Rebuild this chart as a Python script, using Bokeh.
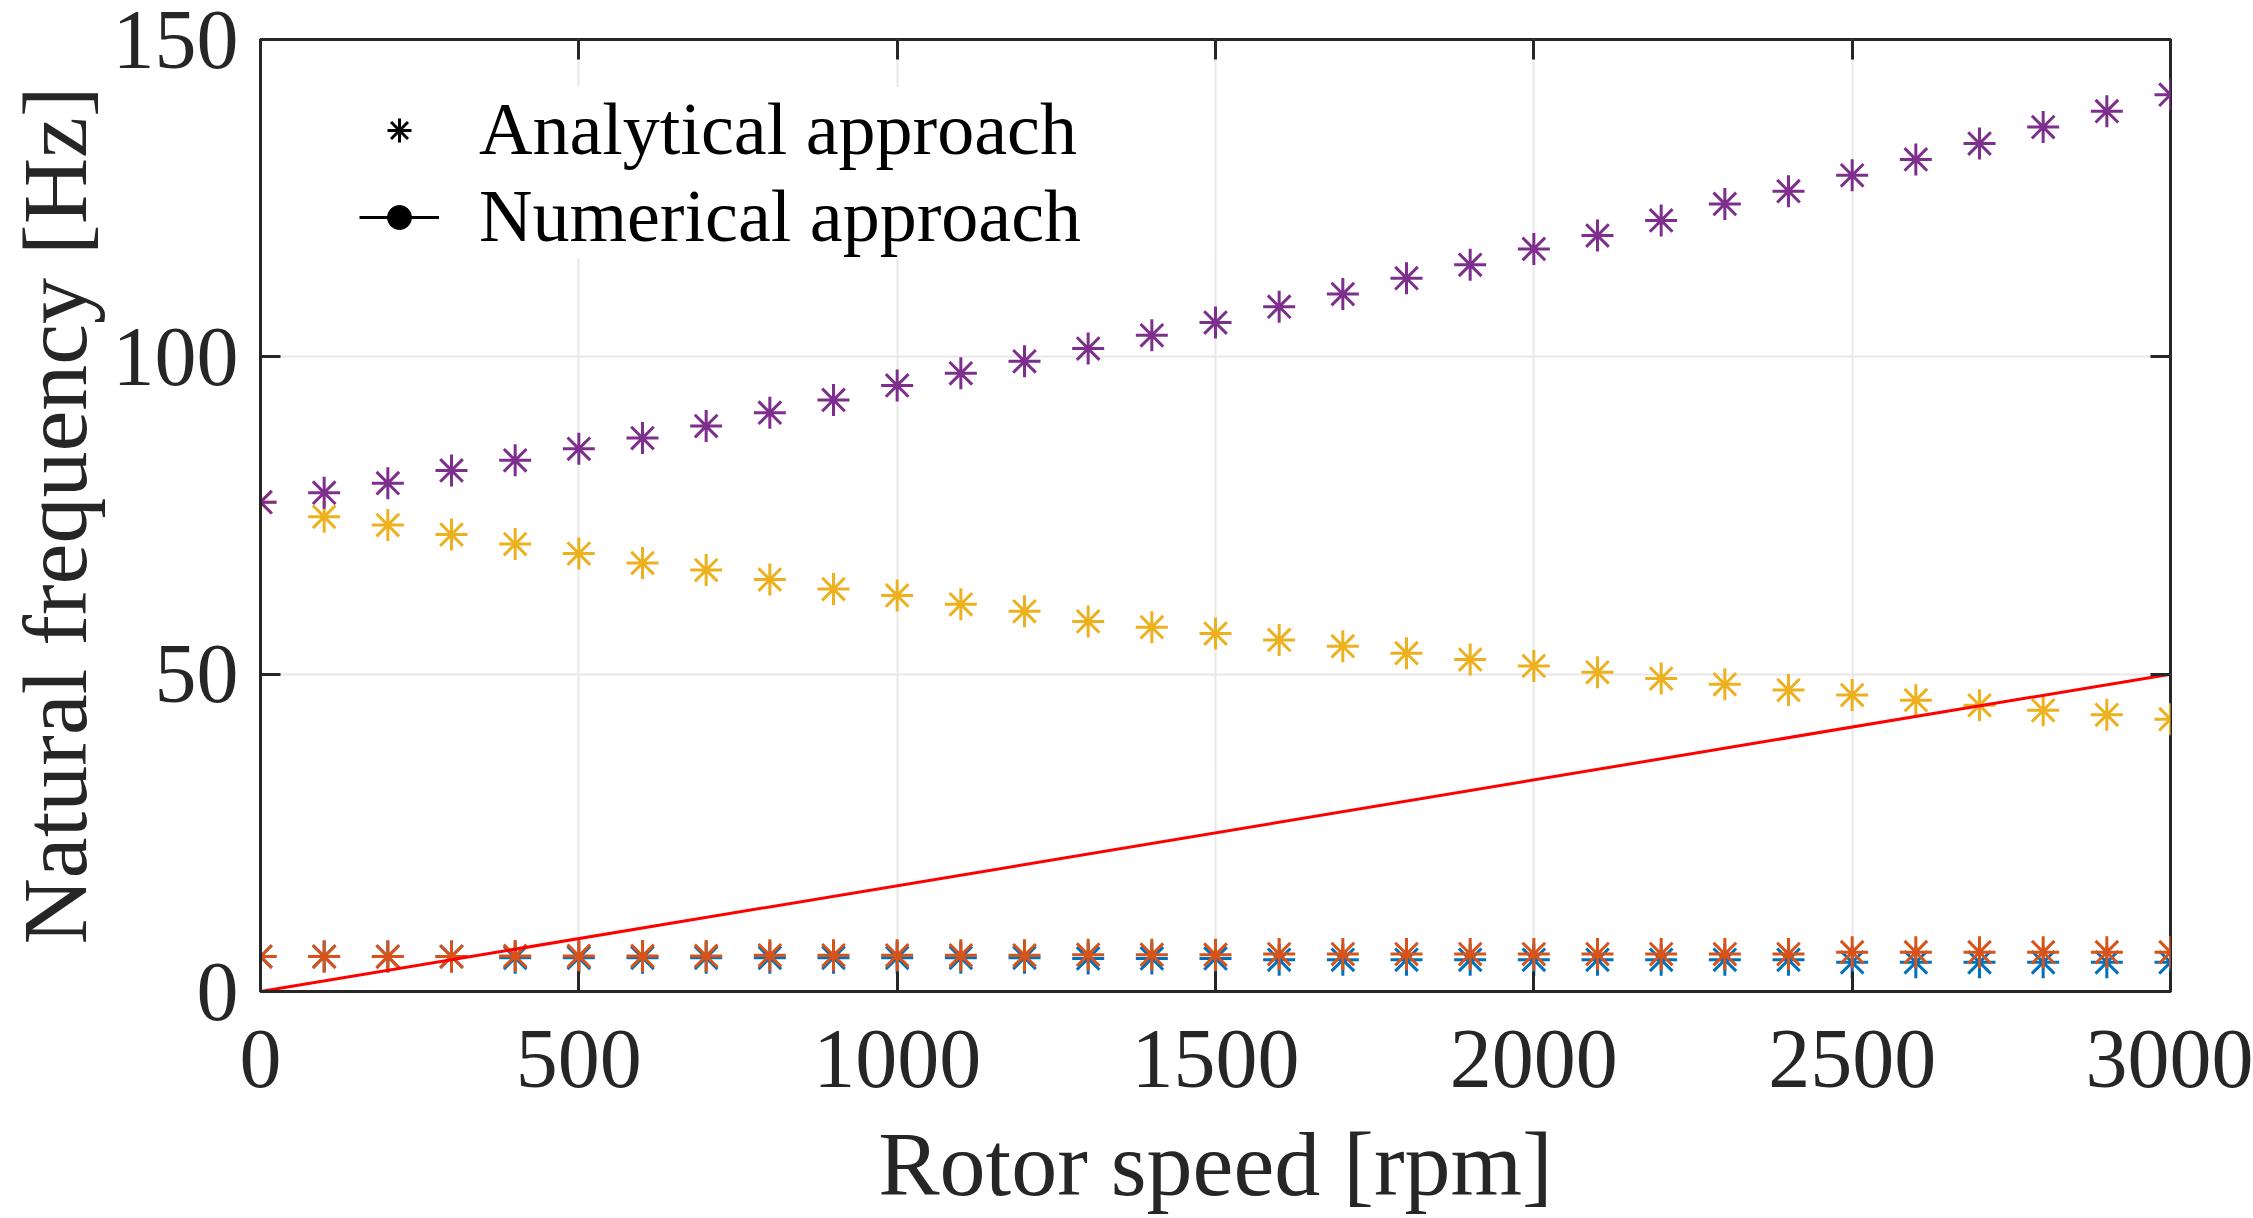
from bokeh.plotting import figure
from bokeh.models import LinearAxis, FixedTicker, Legend, LegendItem, Range1d
from bokeh.embed import file_html
from bokeh.resources import INLINE

# Rotor speed samples [rpm]
rotor_speed = [0, 100, 200, 300, 400, 500, 600, 700, 800, 900, 1000,
               1100, 1200, 1300, 1400, 1500, 1600, 1700, 1800, 1900, 2000,
               2100, 2200, 2300, 2400, 2500, 2600, 2700, 2800, 2900, 3000]

# Natural frequencies [Hz] from the analytical model, one list per mode
mode1_hz = [5.5, 5.5, 5.5, 5.5, 5.3, 5.3, 5.3, 5.3, 5.3, 5.3, 5.3,
            5.3, 5.3, 5.2, 5.2, 5.2, 5.0, 5.0, 5.0, 5.0, 5.0,
            5.0, 5.0, 5.0, 5.0, 4.6, 4.6, 4.6, 4.6, 4.6, 4.6]
mode2_hz = [5.5, 5.5, 5.5, 5.5, 5.6, 5.6, 5.6, 5.6, 5.7, 5.7, 5.7,
            5.7, 5.7, 5.8, 5.8, 5.8, 5.9, 5.9, 5.9, 5.9, 5.9,
            5.9, 5.9, 5.9, 5.9, 6.2, 6.2, 6.2, 6.2, 6.2, 6.2]
mode3_hz = [77.1, 74.8, 73.5, 72.0, 70.5, 69.0, 67.5, 66.4, 64.9, 63.4, 62.4,
            61.0, 59.9, 58.3, 57.4, 56.4, 55.4, 54.4, 53.3, 52.3, 51.3,
            50.3, 49.3, 48.4, 47.5, 46.7, 45.9, 45.1, 44.3, 43.6, 42.9]
mode4_hz = [77.1, 78.6, 80.1, 82.1, 83.7, 85.5, 87.2, 89.1, 91.2, 93.2, 95.5,
            97.4, 99.3, 101.3, 103.4, 105.4, 107.9, 109.9, 112.4, 114.5, 117.0,
            119.1, 121.5, 124.1, 126.1, 128.6, 131.1, 133.6, 136.2, 138.7, 141.3]

# 1x synchronous excitation line (rpm -> Hz)
excitation_rpm = [0, 3000]
excitation_hz = [0, 50]

x_ticks = [0, 500, 1000, 1500, 2000, 2500, 3000]
y_ticks = [0, 50, 100, 150]

mode_colors = ["#0072BD", "#D95319", "#EDB120", "#7E2F8E"]
AXIS_COLOR = "#262626"
FONT = "Liberation Serif"

p = figure(width=2253, height=1218,
           x_range=Range1d(0, 3000), y_range=Range1d(0, 150),
           output_backend="svg", toolbar_location=None,
           x_axis_label="Rotor speed [rpm]",
           y_axis_label="Natural frequency [Hz]",
           min_border_left=260, min_border_right=83,
           min_border_top=39, min_border_bottom=227)
p.background_fill_color = "white"
p.border_fill_color = "white"
p.outline_line_color = AXIS_COLOR
p.outline_line_width = 3

# Grid
p.xgrid.ticker = FixedTicker(ticks=x_ticks)
p.ygrid.ticker = FixedTicker(ticks=y_ticks)
for g in (p.xgrid[0], p.ygrid[0]):
    g.grid_line_color = "#e8e8e8"
    g.grid_line_width = 2

# Main axes
p.xaxis.ticker = FixedTicker(ticks=x_ticks)
p.yaxis.ticker = FixedTicker(ticks=y_ticks)
for ax in (p.xaxis[0], p.yaxis[0]):
    ax.axis_line_color = AXIS_COLOR
    ax.axis_line_width = 3
    ax.major_tick_line_color = AXIS_COLOR
    ax.major_tick_line_width = 3
    ax.major_tick_in = 20
    ax.major_tick_out = 0
    ax.minor_tick_line_color = None
    ax.major_label_text_font = FONT
    ax.major_label_text_font_size = "84px"
    ax.major_label_text_color = AXIS_COLOR
    ax.axis_label_text_font = FONT
    ax.axis_label_text_font_size = "92px"
    ax.axis_label_text_font_style = "normal"
    ax.axis_label_text_color = AXIS_COLOR
p.xaxis.major_label_standoff = 39
p.xaxis.axis_label_standoff = 23
p.yaxis.major_label_standoff = 22
p.yaxis.axis_label_standoff = 4

# Mirrored ticks on the top and right edges of the box
top_axis = LinearAxis(ticker=FixedTicker(ticks=x_ticks),
                      major_label_overrides={t: "" for t in x_ticks})
right_axis = LinearAxis(ticker=FixedTicker(ticks=y_ticks),
                        major_label_overrides={t: "" for t in y_ticks})
for ax in (top_axis, right_axis):
    ax.axis_line_color = None
    ax.major_tick_line_color = AXIS_COLOR
    ax.major_tick_line_width = 3
    ax.major_tick_in = 20
    ax.major_tick_out = 0
    ax.minor_tick_line_color = None
    ax.major_label_text_font_size = "0px"
    ax.major_label_standoff = 0
p.add_layout(top_axis, "above")
p.add_layout(right_axis, "right")

# Analytical natural frequencies
for series, color in zip([mode1_hz, mode2_hz, mode3_hz, mode4_hz], mode_colors):
    p.scatter(rotor_speed, series, marker="asterisk", size=32,
              line_color=color, line_width=3)

# Synchronous excitation line
p.line(excitation_rpm, excitation_hz, line_color="#FF0000", line_width=3)

# Hidden renderers that only supply the black legend key glyphs
leg_star = p.scatter(rotor_speed[:1], mode4_hz[:1], marker="asterisk", size=25,
                     line_color="black", line_width=3, visible=False)
leg_line = p.line(rotor_speed[:2], mode4_hz[:2], line_color="black",
                  line_width=3, visible=False)
leg_dot = p.scatter(rotor_speed[:1], mode4_hz[:1], marker="circle", size=9,
                    fill_color="black", line_color="black", visible=False)

legend = Legend(items=[LegendItem(label="Analytical approach", renderers=[leg_star]),
                       LegendItem(label="Numerical approach", renderers=[leg_line, leg_dot])],
                location=(99, 732))
legend.label_text_font = FONT
legend.label_text_font_size = "74px"
legend.label_text_color = "black"
legend.label_standoff = 40
legend.glyph_width = 80
legend.glyph_height = 60
legend.spacing = 2
legend.padding = 0
legend.margin = 0
legend.border_line_color = None
legend.background_fill_color = "white"
legend.background_fill_alpha = 1.0
legend.inactive_fill_alpha = 0.0
legend.click_policy = "none"
p.add_layout(legend)

open("out.html", "w").write(file_html(p, INLINE))
